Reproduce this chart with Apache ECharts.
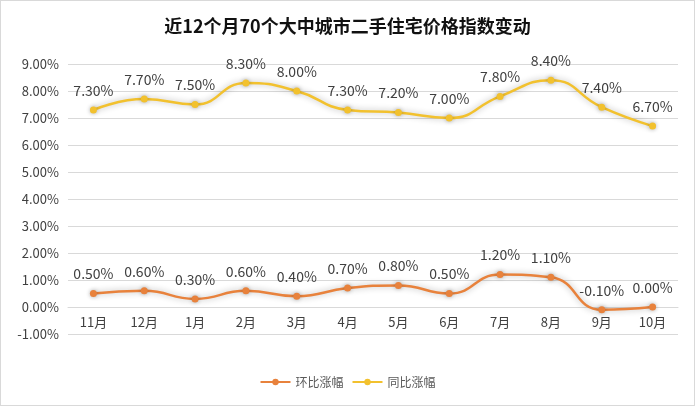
<!DOCTYPE html>
<html><head><meta charset="utf-8">
<script src="https://cdn.jsdelivr.net/npm/echarts@6/dist/echarts.min.js"></script>
<style>html,body{margin:0;padding:0;background:#fff}#c{width:695px;height:406px;box-sizing:border-box;border:1px solid #d9d9d9}</style>
</head><body><div id="c"></div>
<script>
const categories = ['11月','12月','1月','2月','3月','4月','5月','6月','7月','8月','9月','10月'];
const hbValues = [0.50,0.60,0.30,0.60,0.40,0.70,0.80,0.50,1.20,1.10,-0.10,0.00];
const tbValues = [7.30,7.70,7.50,8.30,8.00,7.30,7.20,7.00,7.80,8.40,7.40,6.70];
const seriesNames = ['环比涨幅','同比涨幅'];
const yMin = -1, yMax = 9;
const gridTop = 63, gridBottom = 71, chartH = 406;
const chart = echarts.init(document.getElementById('c'));
const font = '"Microsoft YaHei","Noto Sans CJK SC",sans-serif';
// place category axis at the zero line (Excel style)
const zeroOffset = -(chartH - gridTop - gridBottom) * (0 - yMin) / (yMax - yMin);
function mk(name, data, color){
  return {
    name, type:'line', data, smooth:0.5, symbol:'circle', symbolSize:7,
    lineStyle:{color, width:2.5, shadowColor:'rgba(0,0,0,0.3)', shadowBlur:6, shadowOffsetY:0},
    itemStyle:{color, shadowColor:'rgba(0,0,0,0.3)', shadowBlur:4},
    label:{show:true, position:'top', distance:9, color:'#404040', fontSize:14, fontFamily:font,
      formatter:p=>p.value.toFixed(2)+'%'}
  };
}
chart.setOption({
  backgroundColor:'#fff',
  animation:false,
  title:{text:'近12个月70个大中城市二手住宅价格指数变动', left:'center', top:11,
    textStyle:{fontSize:18, fontWeight:'bold', color:'#111', fontFamily:font}},
  legend:{bottom:12, left:'center', itemWidth:30, itemHeight:8, itemGap:8,
    textStyle:{color:'#595959', fontSize:12, fontFamily:font}},
  grid:{left:67, right:16, top:gridTop, bottom:gridBottom},
  xAxis:{type:'category', data:categories, boundaryGap:true, offset:zeroOffset,
    axisLine:{onZero:false, lineStyle:{color:'#d9d9d9'}}, axisTick:{show:false},
    axisLabel:{color:'#404040', fontSize:13, margin:9, fontFamily:font}},
  yAxis:{type:'value', min:yMin, max:yMax, interval:1,
    axisLabel:{formatter:v=>v.toFixed(2)+'%', color:'#404040', fontSize:13, margin:9, fontFamily:font},
    splitLine:{lineStyle:{color:'#d9d9d9'}}, axisLine:{show:false}, axisTick:{show:false}},
  series:[mk(seriesNames[0], hbValues, '#E8823C'), mk(seriesNames[1], tbValues, '#F2C12E')]
});
</script></body></html>
